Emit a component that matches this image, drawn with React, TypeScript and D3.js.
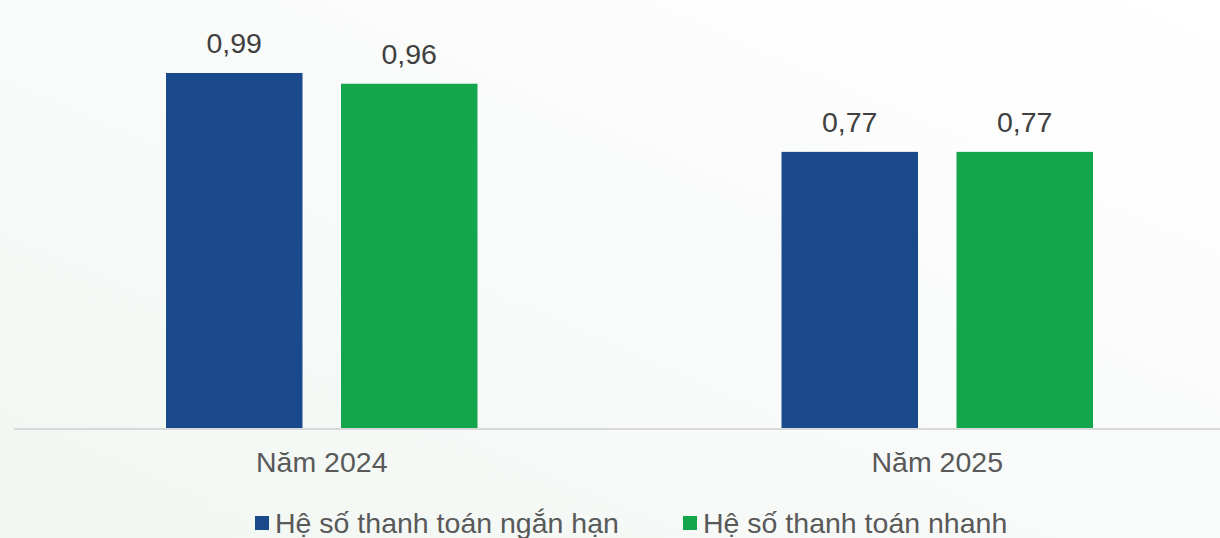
import React, { useEffect, useRef } from "react";
import * as d3 from "d3";

const categories = ["Năm 2024", "Năm 2025"];
const seriesNames = ["Hệ số thanh toán ngắn hạn", "Hệ số thanh toán nhanh"];
const shortTerm = [0.99, 0.77];
const quick = [0.96, 0.77];
const colors = ["#1b4a8c", "#14a64c"];

const fmt = (v: number) => v.toFixed(2).replace(".", ",");

const App: React.FC = () => {
  const svgRef = useRef<SVGSVGElement | null>(null);

  useEffect(() => {
    const width = 1220;
    const height = 538;
    const baseline = 428;
    const font = "'Liberation Sans', Arial, sans-serif";

    const svg = d3.select(svgRef.current);
    svg.selectAll("*").remove();
    svg.attr("width", width).attr("height", height);

    // soft background gradient
    const defs = svg.append("defs");
    const grad = defs.append("linearGradient")
      .attr("id", "bg")
      .attr("x1", "0%").attr("y1", "100%")
      .attr("x2", "100%").attr("y2", "0%");
    grad.append("stop").attr("offset", "0%").attr("stop-color", "#f2f7f3");
    grad.append("stop").attr("offset", "100%").attr("stop-color", "#ffffff");
    svg.append("rect").attr("width", width).attr("height", height).attr("fill", "url(#bg)");

    const y = d3.scaleLinear().domain([0, 1]).range([baseline, 69.4]);
    const x0 = d3.scaleBand<string>().domain(categories).range([14, 1245]);
    const x1 = d3.scaleBand<number>()
      .domain([0, 1])
      .range([152, x0.bandwidth() - 152])
      .paddingInner(0.22);

    const rows = categories.map((c, i) => ({ cat: c, values: [shortTerm[i], quick[i]] }));

    const groups = svg.append("g").selectAll("g")
      .data(rows)
      .join("g")
      .attr("transform", d => `translate(${x0(d.cat)},0)`);

    groups.selectAll("rect")
      .data(d => d.values.map((v, k) => ({ v, k })))
      .join("rect")
      .attr("x", d => x1(d.k)!)
      .attr("y", d => y(d.v))
      .attr("width", x1.bandwidth())
      .attr("height", d => baseline - y(d.v))
      .attr("fill", d => colors[d.k]);

    groups.selectAll("text.val")
      .data(d => d.values.map((v, k) => ({ v, k })))
      .join("text")
      .attr("class", "val")
      .attr("x", d => x1(d.k)! + x1.bandwidth() / 2)
      .attr("y", d => y(d.v) - 20)
      .attr("text-anchor", "middle")
      .style("font-family", font)
      .style("font-size", "28.5px")
      .attr("fill", "#404040")
      .text(d => fmt(d.v));

    // axis line
    svg.append("line")
      .attr("x1", 14).attr("x2", width)
      .attr("y1", baseline + 1).attr("y2", baseline + 1)
      .attr("stroke", "#d9d9d9")
      .attr("stroke-width", 2);

    // category labels
    svg.append("g").selectAll("text")
      .data(categories)
      .join("text")
      .attr("x", d => x0(d)! + x0.bandwidth() / 2)
      .attr("y", 472)
      .attr("text-anchor", "middle")
      .style("font-family", font)
      .style("font-size", "28.5px")
      .attr("fill", "#595959")
      .text(d => d);

    // legend
    const legendX = [255, 683];
    const legend = svg.append("g").selectAll("g")
      .data(seriesNames)
      .join("g")
      .attr("transform", (d, i) => `translate(${legendX[i]},0)`);

    legend.append("rect")
      .attr("x", 0).attr("y", 516)
      .attr("width", 14).attr("height", 14)
      .attr("fill", (d, i) => colors[i]);

    legend.append("text")
      .attr("x", 20)
      .attr("y", 533)
      .style("font-family", font)
      .style("font-size", "28.5px")
      .attr("fill", "#595959")
      .text(d => d);
  }, []);

  return (
    <svg
      ref={svgRef}
      style={{ position: "absolute", left: 0, top: 0, display: "block" }}
    ></svg>
  );
};

export default App;
